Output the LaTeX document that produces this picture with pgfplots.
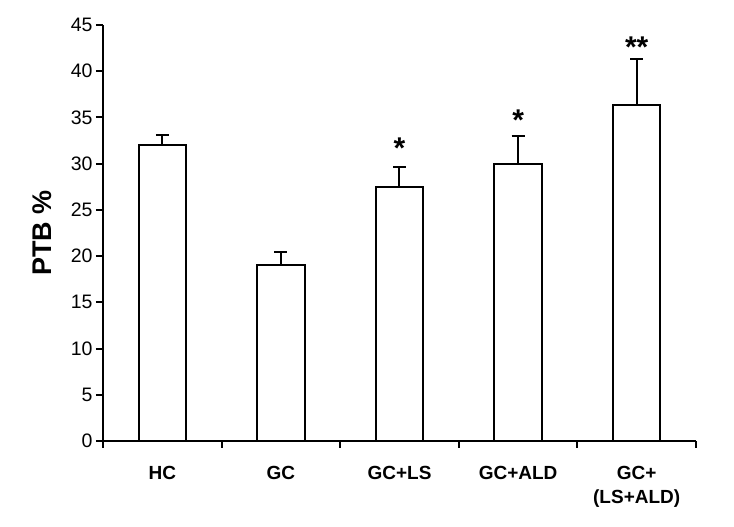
\documentclass[border=0pt]{standalone}
\usepackage{fontspec}
\setmainfont{Liberation Sans}
\usepackage{pgfplots}
\pgfplotsset{compat=1.18}
\begin{document}
\begin{tikzpicture}[x=1pt,y=1pt]
\path[use as bounding box] (0,0) rectangle (734,527);
\begin{axis}[
  at={(103pt,86pt)}, anchor=south west,
  scale only axis, width=593pt, height=416pt,
  xmin=-0.5, xmax=4.5, ymin=0, ymax=45,
  axis x line*=bottom, axis y line*=left,
  axis line style={line width=2pt},
  every tick/.style={black, line width=2pt},
  tick align=outside,
  major tick length=7pt,
  ytick={0,5,...,45},
  /pgf/number format/assume math mode=true,
  yticklabel={\fontsize{19.5}{20}\selectfont\pgfmathprintnumber{\tick}},
  xtick={-0.5,0.5,1.5,2.5,3.5,4.5},
  xticklabels={},
  extra x ticks={0,1,2,3,4},
  extra x tick labels={HC,GC,GC+LS,GC+ALD,{GC+\\(LS+ALD)}},
  extra x tick style={major tick length=0pt,
    xticklabel style={font=\fontsize{19}{24}\bfseries\selectfont, align=center, anchor=north, inner sep=0pt, yshift=-25pt}},
  ylabel={\fontsize{27}{27}\bfseries\selectfont PTB \%},
  ylabel style={at={(axis description cs:-0.103,0.5)}, anchor=center},
  clip=false,
]
\addplot[ybar, bar width=0.4, fill=white, draw=black, line width=2pt,
  error bars/.cd, y dir=plus, y explicit,
  error bar style={line width=2pt, black},
  error mark options={line width=2pt, mark size=6.5pt, black, rotate=90}]
  coordinates {
  (0,32) +- (0,1.05)
  (1,19) +- (0,1.45)
  (2,27.5) +- (0,2.15)
  (3,30) +- (0,3.03)
  (4,36.3) +- (0,5.05)
  };
\node[font=\fontsize{30}{30}\bfseries\selectfont, inner sep=0pt] at (axis cs:2,31.7) {*};
\node[font=\fontsize{30}{30}\bfseries\selectfont, inner sep=0pt] at (axis cs:3,34.7) {*};
\node[font=\fontsize{30}{30}\bfseries\selectfont, inner sep=0pt] at (axis cs:4,42.6) {**};
\end{axis}
\end{tikzpicture}
\end{document}
